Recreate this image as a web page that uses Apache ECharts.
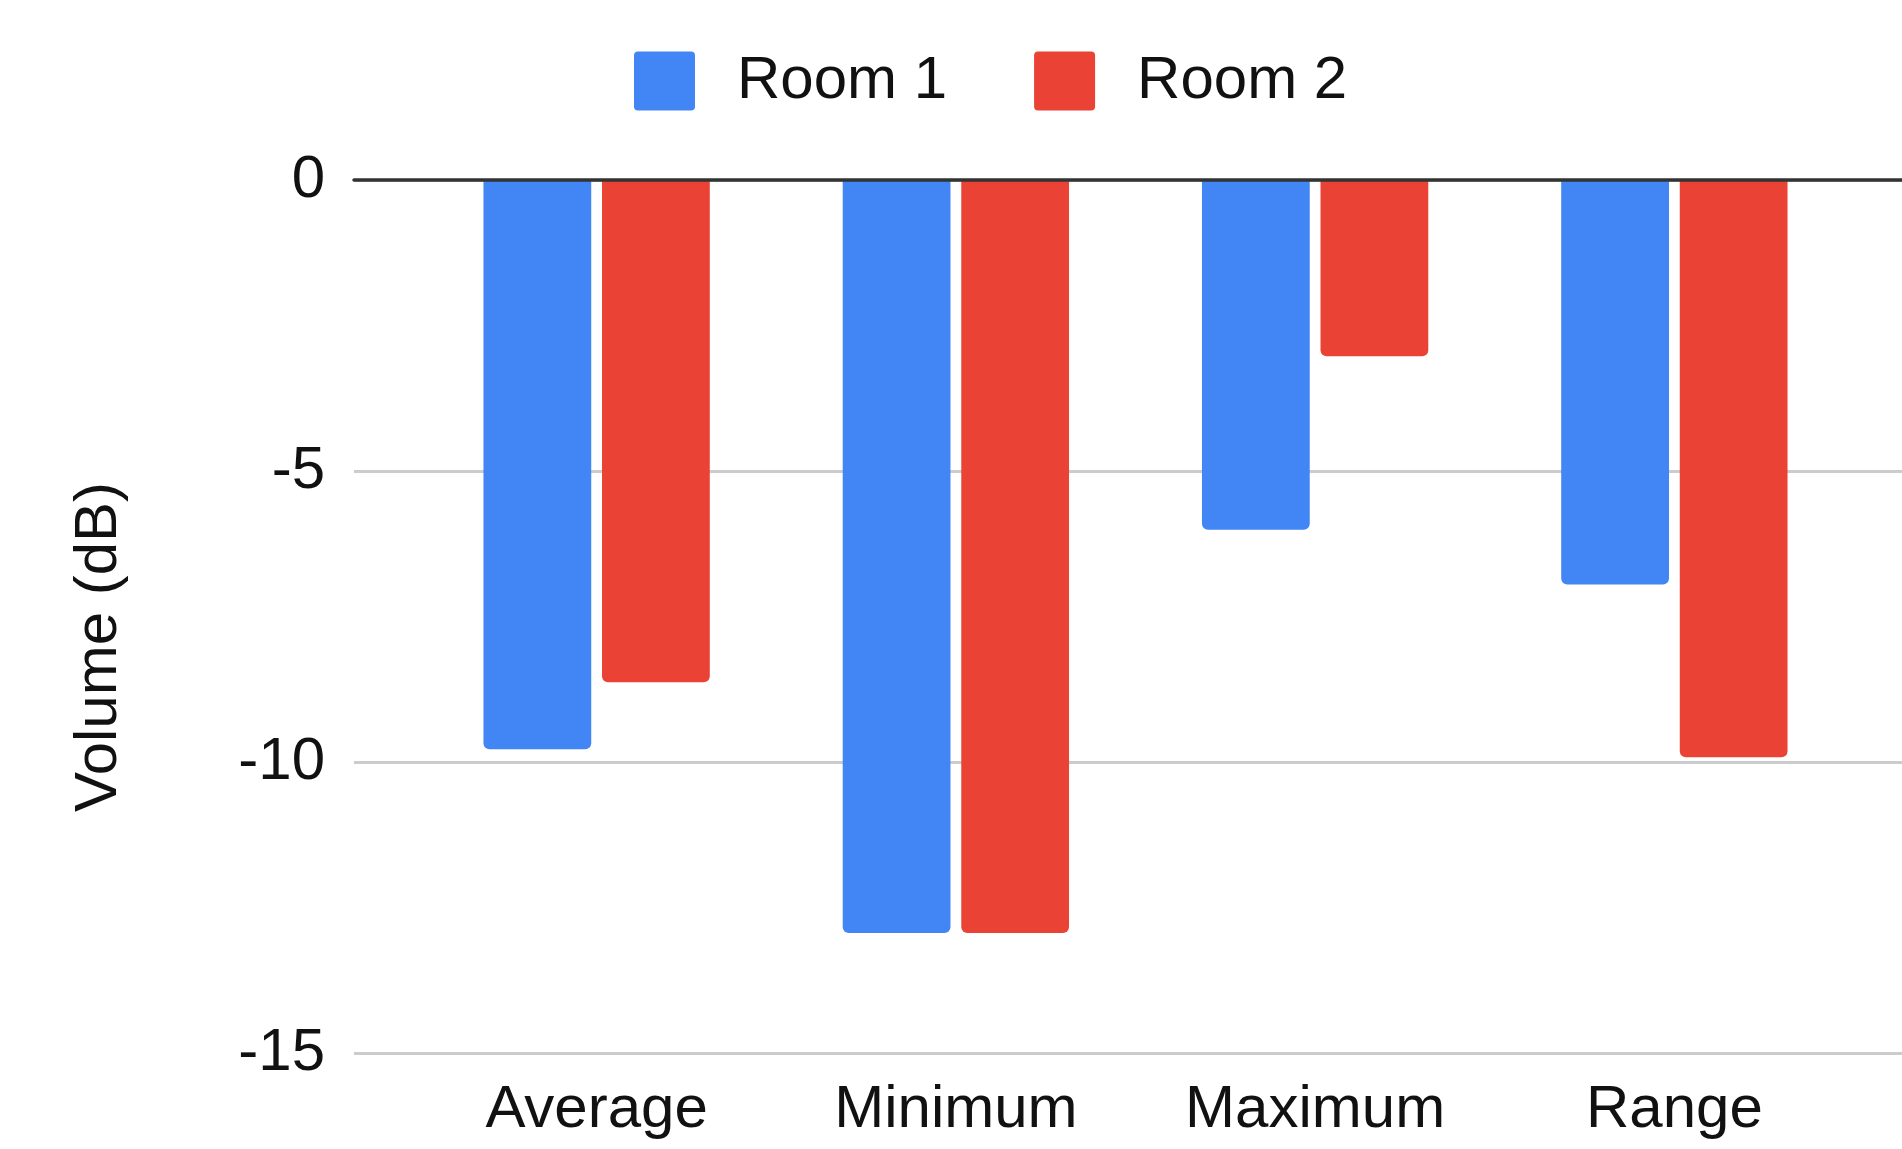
<!DOCTYPE html>
<html>
<head>
<meta charset="utf-8">
<script src="https://cdn.jsdelivr.net/npm/echarts@6/dist/echarts.min.js"></script>
<style>
  html, body { margin: 0; padding: 0; background: #fff; }
  #chart { width: 1902px; height: 1149px; }
</style>
</head>
<body>
<div id="chart"></div>
<script>
// Volume statistics per room, in dB
const categories = ['Average', 'Minimum', 'Maximum', 'Range'];
const room1 = [-9.78, -12.94, -6.01, -6.95];
const room2 = [-8.63, -12.94, -3.03, -9.92];
const seriesNames = ['Room 1', 'Room 2'];
const yTicks = { min: -15, max: 0, interval: 5 };

const FONT = "'Liberation Sans', Arial, sans-serif";
const TEXT = '#111';
// small-radius rounded square for legend keys
const KEY_ICON = 'path://M4,0H57Q61,0 61,4V55Q61,59 57,59H4Q0,59 0,55V4Q0,0 4,0Z';

const chart = echarts.init(document.getElementById('chart'));

chart.setOption({
  animation: false,
  backgroundColor: '#fff',
  textStyle: { fontFamily: FONT },
  legend: {
    data: seriesNames,
    left: 634,
    top: 51,
    padding: 0,
    icon: KEY_ICON,
    itemWidth: 61,
    itemHeight: 59,
    itemGap: 87,
    textStyle: { fontSize: 60, color: TEXT, fontFamily: FONT, padding: [0, 0, 0, 37] }
  },
  grid: [
    // full-width grid carrying the value axis and gridlines
    { left: 354, right: 0, top: 180, bottom: 96 },
    // inset grid holding the bars
    { left: 417, right: 48, top: 180, bottom: 96 }
  ],
  xAxis: [
    {
      gridIndex: 0, type: 'value', min: 0, max: 1, position: 'top', z: 5,
      axisLine: { show: true, lineStyle: { color: '#333', width: 3.5 } },
      axisTick: { show: false }, axisLabel: { show: false }, splitLine: { show: false }
    },
    {
      gridIndex: 1, type: 'category', data: categories, position: 'bottom',
      axisLine: { show: false }, axisTick: { show: false },
      axisLabel: { fontSize: 60, color: TEXT, fontFamily: FONT, margin: 27 }
    }
  ],
  yAxis: [
    {
      gridIndex: 0, type: 'value', min: yTicks.min, max: yTicks.max, interval: yTicks.interval,
      axisLine: { show: false }, axisTick: { show: false },
      axisLabel: { fontSize: 60, color: TEXT, fontFamily: FONT, margin: 29 },
      splitLine: { lineStyle: { color: '#cccccc', width: 3 } }
    },
    {
      gridIndex: 1, type: 'value', min: yTicks.min, max: yTicks.max, interval: yTicks.interval,
      show: false, splitLine: { show: false }
    }
  ],
  graphic: [
    {
      type: 'text', x: 99, y: 647, rotation: Math.PI / 2,
      style: {
        text: 'Volume (dB)', fontSize: 60, fontFamily: FONT, fill: TEXT,
        align: 'center', verticalAlign: 'middle'
      }
    }
  ],
  series: [
    {
      name: seriesNames[0], type: 'bar', xAxisIndex: 1, yAxisIndex: 1, data: room1,
      itemStyle: { color: '#4285F4', borderRadius: [0, 0, 6, 6] },
      barGap: '10%', barCategoryGap: '37%'
    },
    {
      name: seriesNames[1], type: 'bar', xAxisIndex: 1, yAxisIndex: 1, data: room2,
      itemStyle: { color: '#EA4335', borderRadius: [0, 0, 6, 6] },
      barGap: '10%', barCategoryGap: '37%'
    }
  ]
});
</script>
</body>
</html>
